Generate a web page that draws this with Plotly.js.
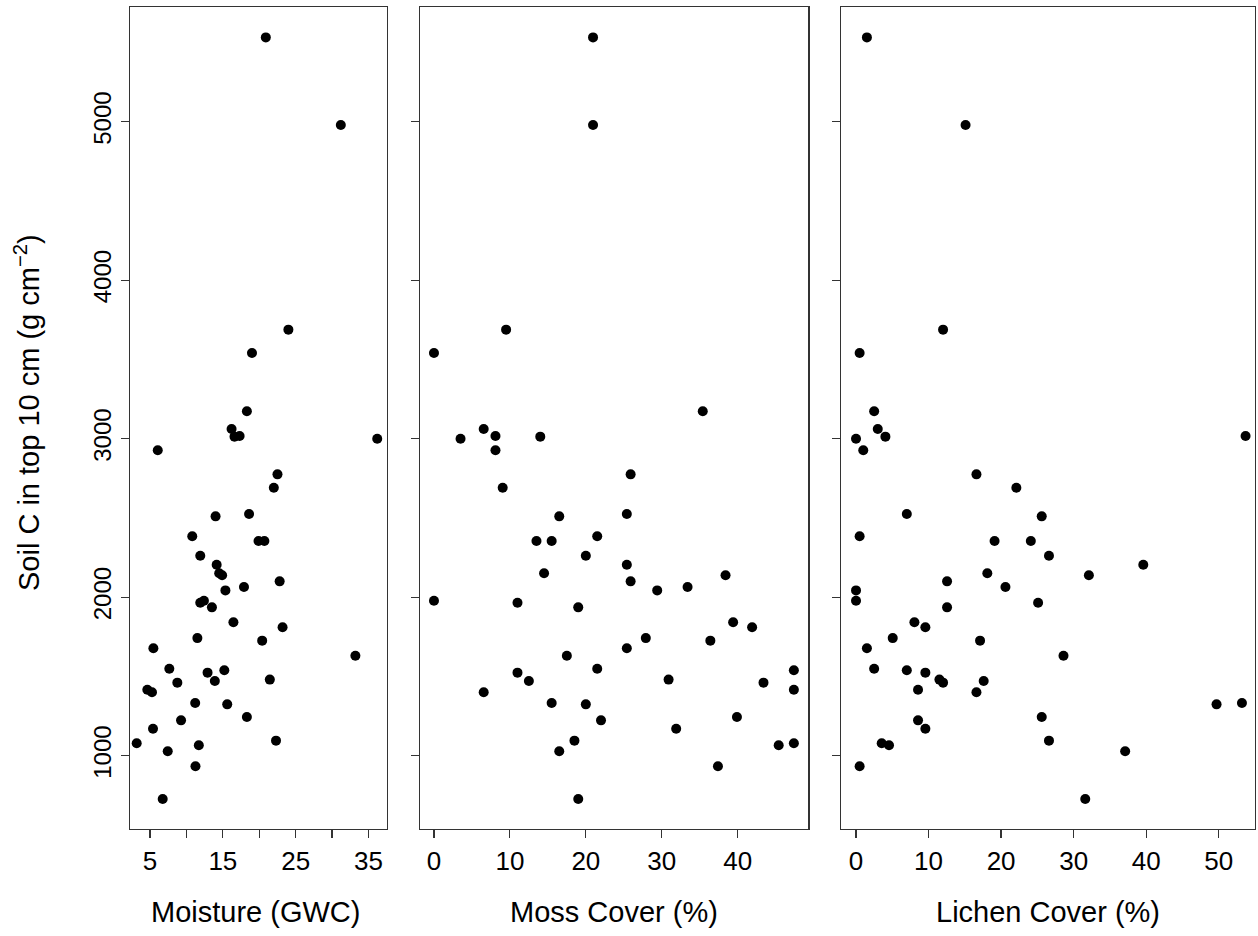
<!DOCTYPE html>
<html>
<head>
<meta charset="utf-8">
<script src="https://cdn.plot.ly/plotly-3.0.1.min.js"></script>
<style>html,body{margin:0;padding:0;background:#fff;}#chart{width:1258px;height:936px;}</style>
</head>
<body>
<div id="chart"></div>
<script>
// Soil C in top 10 cm (g cm^-2), one value per sample
const soilC = [5532, 4979, 3688, 3541, 3173, 3061, 3017, 3013, 3000, 2927,
  2775, 2691, 2525, 2510, 2384, 2355, 2355, 2262, 2205, 2151,
  2138, 2100, 2064, 2043, 1978, 1965, 1936, 1842, 1810, 1742,
  1726, 1678, 1631, 1549, 1539, 1524, 1480, 1471, 1461, 1416,
  1400, 1332, 1324, 1244, 1223, 1170, 1095, 1078, 1066, 1028,
  933, 727];
// Moisture (GWC)
const moisture = [20.9, 31.2, 24.0, 19.0, 18.3, 16.2, 17.3, 16.6, 36.2, 6.06,
  22.5, 22.0, 18.6, 14.0, 10.8, 19.9, 20.7, 11.9, 14.15, 14.5,
  14.9, 22.8, 17.9, 15.35, 12.4, 11.9, 13.5, 16.45, 23.2, 11.5,
  20.4, 5.46, 33.2, 7.65, 15.2, 12.9, 21.45, 13.9, 8.75, 4.63,
  5.27, 11.2, 15.6, 18.3, 9.26, 5.41, 22.3, 3.17, 11.7, 7.43,
  11.24, 6.74];
// Moss cover (%)
const moss = [20.95, 20.95, 9.5, 0.0, 35.4, 6.55, 8.1, 14.0, 3.5, 8.1,
  25.9, 9.05, 25.4, 16.5, 21.5, 13.5, 15.5, 20.0, 25.4, 14.5,
  38.4, 25.9, 33.4, 29.4, 0.0, 11.0, 19.0, 39.4, 41.9, 27.9,
  36.4, 25.4, 17.5, 21.5, 47.4, 11.0, 30.9, 12.5, 43.4, 47.4,
  6.55, 15.5, 20.0, 39.9, 22.0, 31.9, 18.5, 47.4, 45.4, 16.5,
  37.4, 19.0];
// Lichen cover (%)
const lichen = [1.5, 15.1, 12.0, 0.5, 2.5, 3.0, 53.7, 4.05, 0.0, 1.0,
  16.6, 22.1, 7.0, 25.6, 0.5, 19.1, 24.1, 26.6, 39.6, 18.1,
  32.1, 12.55, 20.6, 0.0, 0.0, 25.1, 12.55, 8.05, 9.56, 5.06,
  17.1, 1.5, 28.6, 2.5, 7.0, 9.56, 11.5, 17.6, 12.0, 8.55,
  16.6, 53.2, 49.7, 25.6, 8.55, 9.56, 26.6, 3.54, 4.55, 37.1,
  0.5, 31.6];

const yTicks = [1000, 2000, 3000, 4000, 5000];
const moistTicks = [5, 15, 25, 35];
const moistMinorTicks = [10, 20, 30];
const mossTicks = [0, 10, 20, 30, 40];
const lichenTicks = [0, 10, 20, 30, 40, 50];

const FONT = 'Liberation Sans, Arial, Helvetica, sans-serif';
const W = 1258, H = 936;
const marker = {color: '#000', size: 10, symbol: 'circle', line: {width: 0}};

const traces = [
  {x: moisture, y: soilC, xaxis: 'x', yaxis: 'y', type: 'scatter', mode: 'markers', marker: marker, hoverinfo: 'x+y'},
  {x: moss, y: soilC, xaxis: 'x2', yaxis: 'y2', type: 'scatter', mode: 'markers', marker: marker, hoverinfo: 'x+y'},
  {x: lichen, y: soilC, xaxis: 'x3', yaxis: 'y3', type: 'scatter', mode: 'markers', marker: marker, hoverinfo: 'x+y'}
];

function xAx(dom, range, vals, anchor) {
  return {
    domain: dom, range: range, anchor: anchor,
    showgrid: false, zeroline: false,
    showline: true, mirror: true, linecolor: '#333', linewidth: 1.3,
    ticks: 'outside', ticklen: 8, tickwidth: 1.2, tickcolor: '#333',
    tickmode: 'array', tickvals: vals, ticktext: vals.map(String),
    tickfont: {family: FONT, size: 26, color: '#000'},
    automargin: false
  };
}
function yAx(anchor, labels) {
  return {
    domain: [1 - 829 / H, 1 - 7 / H], range: [537.5, 5723.7], anchor: anchor,
    showgrid: false, zeroline: false,
    showline: true, mirror: true, linecolor: '#333', linewidth: 1.3,
    ticks: 'outside', ticklen: 8, tickwidth: 1.2, tickcolor: '#333',
    tickmode: 'array', tickvals: yTicks, ticktext: yTicks.map(String),
    showticklabels: labels, tickangle: -90,
    tickfont: {family: FONT, size: 24, color: '#000'},
    automargin: false
  };
}

const xaxis1 = xAx([130 / W, 386.7 / W], [2.25, 37.5], moistTicks, 'y');
xaxis1.minor = {tickmode: 'array', tickvals: moistMinorTicks, ticks: 'outside', ticklen: 8, tickwidth: 1.2, tickcolor: '#333', showgrid: false};

const layout = {
  width: W, height: H,
  margin: {l: 0, r: 0, t: 0, b: 0},
  paper_bgcolor: '#fff', plot_bgcolor: '#fff',
  showlegend: false,
  font: {family: FONT, color: '#000'},
  xaxis: xaxis1,
  xaxis2: xAx([420 / W, 808.3 / W], [-1.84, 49.3], mossTicks, 'y2'),
  xaxis3: xAx([841 / W, 1255 / W], [-2.07, 55.0], lichenTicks, 'y3'),
  yaxis: yAx('x', true),
  yaxis2: Object.assign(yAx('x2', false), {matches: 'y'}),
  yaxis3: Object.assign(yAx('x3', false), {matches: 'y'}),
  annotations: [
    {text: 'Moisture (GWC)', xref: 'paper', yref: 'paper', x: 255 / W, y: 1 - 912 / H, showarrow: false, xanchor: 'center', yanchor: 'middle', font: {family: FONT, size: 29, color: '#000'}},
    {text: 'Moss Cover (%)', xref: 'paper', yref: 'paper', x: 614 / W, y: 1 - 912 / H, showarrow: false, xanchor: 'center', yanchor: 'middle', font: {family: FONT, size: 29, color: '#000'}},
    {text: 'Lichen Cover (%)', xref: 'paper', yref: 'paper', x: 1048 / W, y: 1 - 912 / H, showarrow: false, xanchor: 'center', yanchor: 'middle', font: {family: FONT, size: 29, color: '#000'}},
    {text: 'Soil C in top 10 cm (g cm<sup>\u22122</sup>)', xref: 'paper', yref: 'paper', x: 27 / W, y: 1 - 413 / H, textangle: -90, showarrow: false, xanchor: 'center', yanchor: 'middle', font: {family: FONT, size: 29, color: '#000'}}
  ]
};

Plotly.newPlot('chart', traces, layout, {displayModeBar: false, staticPlot: true});
</script>
</body>
</html>
